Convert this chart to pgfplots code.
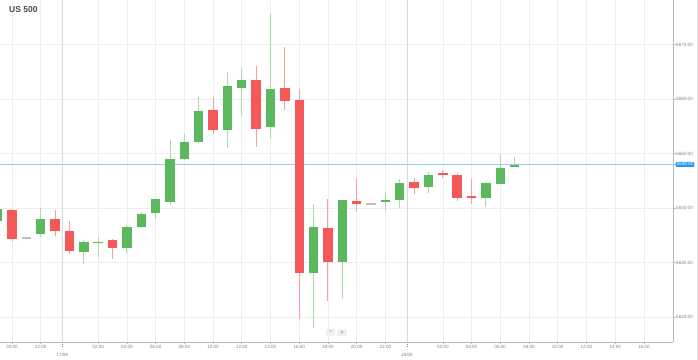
\documentclass[border=0pt]{standalone}
\usepackage{pgfplots}
\pgfplotsset{compat=1.18}
\usepackage{pgfplotstable}
\usepackage{fontspec}
\setmainfont{Liberation Sans}
\definecolor{cgreen}{RGB}{92,184,92}
\definecolor{cred}{RGB}{245,88,88}
\definecolor{wgreen}{RGB}{170,218,170}
\definecolor{wred}{RGB}{246,160,160}
\definecolor{cgray}{RGB}{190,190,190}
\definecolor{gridc}{RGB}{238,238,238}
\definecolor{sepc}{RGB}{218,218,218}
\definecolor{axc}{RGB}{185,185,185}
\definecolor{tickc}{RGB}{130,130,130}
\definecolor{pline}{RGB}{150,205,240}
\definecolor{pbox}{RGB}{33,150,243}

\pgfplotstableread{
x  o       h       l       c
-1 5637.6  5640.0  5637.4  5639.9
2  5635.3  5640.05 5634.7  5638.0
5  5632.0  5634.1  5629.8  5633.8
6  5633.7  5634.7  5631.0  5633.9
8  5632.8  5637.0  5631.8  5636.7
9  5636.6  5639.3  5636.4  5639.0
10 5639.0  5641.8  5638.0  5641.6
11 5641.2  5652.5  5640.7  5649.0
12 5649.0  5653.7  5648.8  5652.2
13 5652.3  5660.4  5652.0  5658.0
15 5654.3  5665.0  5651.0  5662.4
16 5662.1  5665.8  5657.0  5663.5
18 5654.8  5675.9  5652.8  5661.8
21 5628.1  5640.7  5617.9  5636.6
23 5630.1  5641.6  5623.6  5641.5
26 5641.2  5643.0  5639.6  5641.5
27 5641.6  5645.4  5640.0  5644.6
29 5644.0  5646.7  5642.9  5646.2
33 5641.8  5644.8  5640.2  5644.6
34 5644.5  5649.9  5644.4  5647.4
35 5647.6  5649.5  5647.6  5647.9
}\upT

\pgfplotstableread{
x  o       h       l       c
0  5639.7  5639.9  5634.1  5634.4
3  5638.1  5639.7  5634.9  5635.8
4  5635.7  5637.8  5631.7  5632.1
7  5634.1  5634.4  5630.8  5632.7
14 5658.1  5660.4  5653.7  5654.4
17 5663.6  5666.0  5651.2  5654.7
19 5662.2  5669.7  5658.1  5659.8
20 5659.9  5661.9  5619.8  5628.2
22 5636.4  5641.7  5623.1  5630.2
24 5641.4  5645.6  5639.3  5640.7
28 5644.8  5645.6  5642.6  5643.8
30 5646.5  5647.1  5645.6  5646.1
31 5646.2  5646.4  5641.3  5641.9
32 5642.1  5645.4  5640.7  5641.9
}\downT

\pgfplotstableread{
x  o       h       l       c
1  5634.5  5634.5  5634.5  5634.5
25 5640.8  5640.8  5640.8  5640.8
}\flatT

\pgfplotsset{candle/.style 2 args={draw=none, no markers, forget plot,
  error bars/.cd, y dir=both, y explicit, error mark=none,
  error bar style={draw=#1, solid, line width=#2}}}

\begin{document}
\begin{tikzpicture}
\begin{axis}[
  at={(0,18bp)}, anchor=south west,
  width=673bp, height=342bp, scale only axis,
  xmin=-0.836, xmax=46.03, ymin=5615.41, ymax=5678.17,
  axis x line*=bottom, axis y line*=right,
  axis line style={draw=axc, line width=0.8bp, -},
  tick align=outside, major tick length=2.5bp,
  tick style={draw=axc, line width=0.6bp},
  xtick={0,2,6,8,10,12,14,16,18,20,22,24,26,30,32,34,36,38,40,42,44},
  xticklabels={20:00,22:00,02:00,04:00,06:00,08:00,10:00,12:00,14:00,16:00,18:00,20:00,22:00,02:00,04:00,06:00,08:00,10:00,12:00,14:00,16:00},
  ytick={5620,5630,5640,5650,5660,5670},
  yticklabels={5620.00,5630.00,5640.00,5650.00,5660.00,5670.00},
  grid=major, major grid style={draw=gridc, line width=0.6bp},
  /pgf/number format/assume math mode=true,
  ticklabel style={font=\fontsize{4.6bp}{5bp}\selectfont, text=tickc, inner sep=0.5bp},
  xticklabel style={anchor=north},
  yticklabel style={anchor=west},
  extra x ticks={3.5,27.5},
  extra x tick labels={17/09,18/09},
  extra x tick style={major grid style={draw=sepc, line width=0.7bp}, tick style={dotted, draw=gray}, major tick length=5bp, xticklabel style={yshift=-5bp}},
  extra y ticks={5648}, extra y tick labels={5648.00},
  extra y tick style={grid=none, yticklabel style={fill=pbox, text=white, inner xsep=1bp, inner ysep=0.9bp, rounded corners=0.8bp}},
  clip=true,
]
\addplot[pline, line width=0.8bp, forget plot] coordinates {(-2,5648) (47,5648)};

% wicks
\addplot[candle={wgreen}{0.9bp}]
  table[x=x, y expr={(\thisrow{h}+\thisrow{l})/2}, y error expr={(\thisrow{h}-\thisrow{l})/2}] \upT;
\addplot[candle={wred}{0.9bp}]
  table[x=x, y expr={(\thisrow{h}+\thisrow{l})/2}, y error expr={(\thisrow{h}-\thisrow{l})/2}] \downT;

% bodies
\addplot[candle={cgreen}{9.4bp}]
  table[x=x, y expr={(\thisrow{o}+\thisrow{c})/2}, y error expr={max(abs(\thisrow{o}-\thisrow{c})/2,0.13)}] \upT;
\addplot[candle={cred}{9.4bp}]
  table[x=x, y expr={(\thisrow{o}+\thisrow{c})/2}, y error expr={max(abs(\thisrow{o}-\thisrow{c})/2,0.13)}] \downT;
\addplot[candle={cgray}{9.4bp}]
  table[x=x, y expr={(\thisrow{o}+\thisrow{c})/2}, y error expr={max(abs(\thisrow{o}-\thisrow{c})/2,0.13)}] \flatT;
\end{axis}
\node[anchor=base west, inner sep=0, font=\bfseries\fontsize{8.5bp}{9bp}\selectfont, text={rgb,255:red,70;green,70;blue,70}] at (9bp,347bp) {US 500};
\node[fill=gray!12, minimum width=9.5bp, minimum height=7bp, inner sep=0, font=\fontsize{6bp}{6bp}\selectfont, text=gray!85!black] at (330.5bp,27.5bp) {−};
\node[fill=gray!12, minimum width=10bp, minimum height=7bp, inner sep=0, font=\fontsize{6bp}{6bp}\selectfont, text=gray!85!black] at (342.2bp,27.5bp) {+};
\draw[gray!25, line width=0.6bp] (697bp,0) -- (697bp,360bp);
\pgfresetboundingbox
\path[use as bounding box] (0,0) rectangle (698bp,360bp);
\end{tikzpicture}
\end{document}
